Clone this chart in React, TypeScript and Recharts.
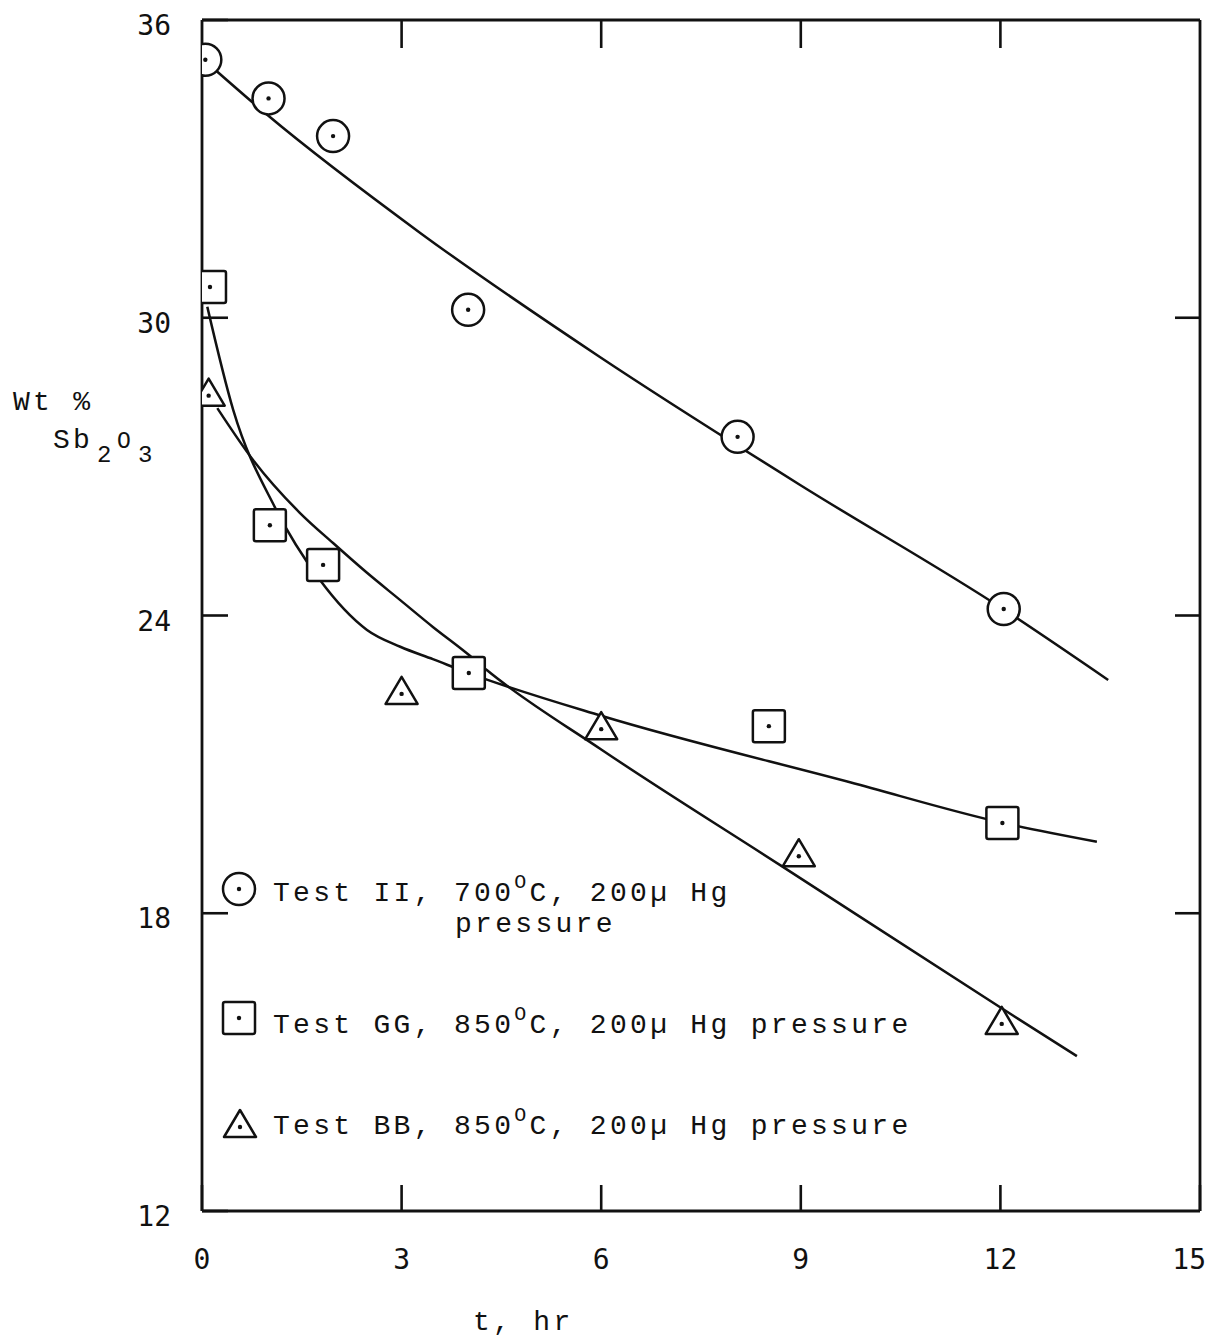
import React from 'react';
import { ComposedChart, Line, Scatter, XAxis, YAxis, Legend } from 'recharts';

// ---------- axis ticks ----------
const xTicks = [0, 3, 6, 9, 12, 15];
const yTicks = [12, 18, 24, 30, 36];
const innerXTicks = [3, 6, 9, 12];
const innerYTicks = [18, 24, 30];

// ---------- measured points ----------
// Test II, 700 C (circles)
const testIIT = [0.05, 1.0, 1.97, 4.0, 8.05, 12.05];
const testIIWt = [35.2, 34.42, 33.66, 30.16, 27.6, 24.13];
// Test GG, 850 C (squares)
const testGGT = [0.12, 1.02, 1.82, 4.01, 8.52, 12.03];
const testGGWt = [30.62, 25.82, 25.02, 22.84, 21.77, 19.82];
// Test BB, 850 C (triangles)
const testBBT = [0.1, 3.0, 6.0, 8.97, 12.02];
const testBBWt = [28.45, 22.44, 21.73, 19.17, 15.79];

// ---------- hand-drawn fitted curves ----------
const fitIIT = [0, 0.98, 3.28, 5.98, 8.99, 12.04, 13.62];
const fitIIWt = [35.23, 34.09, 31.71, 29.21, 26.63, 24.13, 22.7];

const fitGGT = [0.08, 0.47, 1.1, 1.77, 2.48, 2.98, 3.47, 4.01, 6.0, 9.74, 12.04, 13.45];
const fitGGWt = [30.22, 28.14, 26.17, 24.72, 23.71, 23.37, 23.12, 22.84, 21.98, 20.64, 19.82, 19.44];

const fitBBT = [0.23, 0.77, 1.47, 1.97, 2.48, 2.98, 3.47, 3.98, 4.28, 6.0, 8.69, 11.99, 13.15];
const fitBBWt = [28.18, 27.13, 26.07, 25.46, 24.86, 24.31, 23.77, 23.24, 22.9, 21.3, 18.97, 16.11, 15.12];

const zip = (ts: number[], ws: number[]) => ts.map((t, i) => ({ t, wt: ws[i] }));

const ptsII = zip(testIIT, testIIWt);
const ptsGG = zip(testGGT, testGGWt);
const ptsBB = zip(testBBT, testBBWt);
const curveII = zip(fitIIT, fitIIWt);
const curveGG = zip(fitGGT, fitGGWt);
const curveBB = zip(fitBBT, fitBBWt);

const INK = '#111';
const TYPE_FONT = '"Liberation Mono", "DejaVu Sans Mono", monospace';
const NUM_FONT = '"DejaVu Sans Mono", monospace';

// ---------- marker shapes ----------
const CircleMark = (p: any) => {
  const { cx, cy } = p;
  if (cx == null || cy == null) return <g />;
  return (
    <g>
      <circle cx={cx} cy={cy} r={16} fill="#fff" stroke={INK} strokeWidth={2.5} />
      <circle cx={cx} cy={cy} r={2.2} fill={INK} />
    </g>
  );
};
const SquareMark = (p: any) => {
  const { cx, cy } = p;
  if (cx == null || cy == null) return <g />;
  return (
    <g>
      <rect x={cx - 16} y={cy - 16} width={32} height={32} rx={2} fill="#fff" stroke={INK} strokeWidth={2.5} />
      <circle cx={cx} cy={cy} r={2.2} fill={INK} />
    </g>
  );
};
const TriangleMark = (p: any) => {
  const { cx, cy } = p;
  if (cx == null || cy == null) return <g />;
  return (
    <g>
      <path
        d={`M${cx},${cy - 16} L${cx + 16},${cy + 11} L${cx - 16},${cy + 11} Z`}
        fill="#fff"
        stroke={INK}
        strokeWidth={2.5}
        strokeLinejoin="round"
      />
      <circle cx={cx} cy={cy + 1} r={2.2} fill={INK} />
    </g>
  );
};
const NoMark = () => <g />;
const NoTick = () => <g />;

// ---------- ticks ----------
const LeftTick = (p: any) => (
  <text x={p.x - 31} y={p.y + 15} textAnchor="end" fontFamily={NUM_FONT} fontSize={28} fill={INK}>
    {p.payload.value}
  </text>
);
const BottomTick = (p: any) => {
  const last = p.payload.value === 15;
  return (
    <text
      x={last ? p.x + 6 : p.x}
      y={p.y + 58}
      textAnchor={last ? 'end' : 'middle'}
      fontFamily={NUM_FONT}
      fontSize={28}
      fill={INK}
    >
      {p.payload.value}
    </text>
  );
};

// ---------- axis titles ----------
const YTitle = () => (
  <g fill={INK} fontFamily={TYPE_FONT}>
    <text x={5} y={402} fontSize={28} letterSpacing={3.3}>Wt %</text>
    <text x={45} y={440} fontSize={28} letterSpacing={3.3}>Sb</text>
    <text x={89} y={454} fontSize={24}>2</text>
    <text x={109} y={440} fontSize={23}>O</text>
    <text x={130} y={454} fontSize={24}>3</text>
  </g>
);
const XTitle = () => (
  <text x={465} y={1322} fontFamily={TYPE_FONT} fontSize={28} letterSpacing={3.3} fill={INK}>
    t, hr
  </text>
);

// ---------- legend ----------
const LegendLine = ({ x, y, temp, tail }: { x: number; y: number; temp: string; tail: string }) => (
  <text x={x} y={y} fontFamily={TYPE_FONT} fontSize={28} letterSpacing={3.3} fill={INK}>
    {temp}
    <tspan fontSize={20} dy={-13}>O</tspan>
    <tspan dy={13}>{tail}</tspan>
  </text>
);

const LegendBox = () => (
  <svg width={720} height={300} style={{ display: 'block', overflow: 'visible' }}>
    <CircleMark cx={24} cy={29} />
    <LegendLine x={58} y={41} temp="Test II, 700" tail="C, 200µ Hg" />
    <text x={240} y={72} fontFamily={TYPE_FONT} fontSize={28} letterSpacing={3.3} fill={INK}>pressure</text>
    <SquareMark cx={24} cy={158} />
    <LegendLine x={58} y={173} temp="Test GG, 850" tail="C, 200µ Hg pressure" />
    <TriangleMark cx={25} cy={266} />
    <LegendLine x={58} y={274} temp="Test BB, 850" tail="C, 200µ Hg pressure" />
  </svg>
);

const axisLine = { stroke: INK, strokeWidth: 2.8 };
const tickLine = { stroke: INK, strokeWidth: 2.6 };

export default function App() {
  return (
    <div style={{ width: 1208, height: 1333 }}>
      <ComposedChart width={1208} height={1333} margin={{ top: 11, right: 15, bottom: 70, left: 134 }}>
        <XAxis
          dataKey="t"
          type="number"
          domain={[0, 15]}
          ticks={xTicks}
          allowDataOverflow
          height={60}
          axisLine={axisLine}
          tickLine={tickLine}
          tickSize={-26}
          tickMargin={26}
          tick={BottomTick}
          interval={0}
          label={{ content: XTitle }}
        />
        <XAxis
          xAxisId="top"
          dataKey="t"
          orientation="top"
          type="number"
          domain={[0, 15]}
          ticks={innerXTicks}
          allowDataOverflow
          height={1}
          axisLine={axisLine}
          tickLine={tickLine}
          tickSize={-28}
          tick={NoTick}
          interval={0}
        />
        <YAxis
          type="number"
          domain={[12, 36]}
          ticks={yTicks}
          allowDataOverflow
          width={60}
          axisLine={axisLine}
          tickLine={tickLine}
          tickSize={-26}
          tickMargin={26}
          tick={LeftTick}
          interval={0}
          label={{ content: YTitle }}
        />
        <YAxis
          yAxisId="right"
          orientation="right"
          type="number"
          domain={[12, 36]}
          ticks={innerYTicks}
          allowDataOverflow
          width={1}
          axisLine={axisLine}
          tickLine={tickLine}
          tickSize={-25}
          tick={NoTick}
          interval={0}
        />
        <Legend
          layout="horizontal"
          verticalAlign="middle"
          align="center"
          wrapperStyle={{ left: 207, top: 852, width: 720, height: 300 }}
          content={LegendBox}
        />
        <Line data={curveII} dataKey="wt" name="fit II" type="monotone" stroke={INK} strokeWidth={2.5} dot={false} activeDot={false} isAnimationActive={false} legendType="none" />
        <Line data={curveGG} dataKey="wt" name="fit GG" type="monotone" stroke={INK} strokeWidth={2.5} dot={false} activeDot={false} isAnimationActive={false} legendType="none" />
        <Line data={curveBB} dataKey="wt" name="fit BB" type="monotone" stroke={INK} strokeWidth={2.5} dot={false} activeDot={false} isAnimationActive={false} legendType="none" />
        <Scatter data={ptsII} dataKey="wt" name="Test II" shape={CircleMark} isAnimationActive={false} />
        <Scatter data={ptsGG} dataKey="wt" name="Test GG" shape={SquareMark} isAnimationActive={false} />
        <Scatter data={ptsBB} dataKey="wt" name="Test BB" shape={TriangleMark} isAnimationActive={false} />
        <Scatter xAxisId="top" yAxisId="right" data={ptsII} dataKey="wt" name="frame" shape={NoMark} legendType="none" isAnimationActive={false} />
      </ComposedChart>
    </div>
  );
}
